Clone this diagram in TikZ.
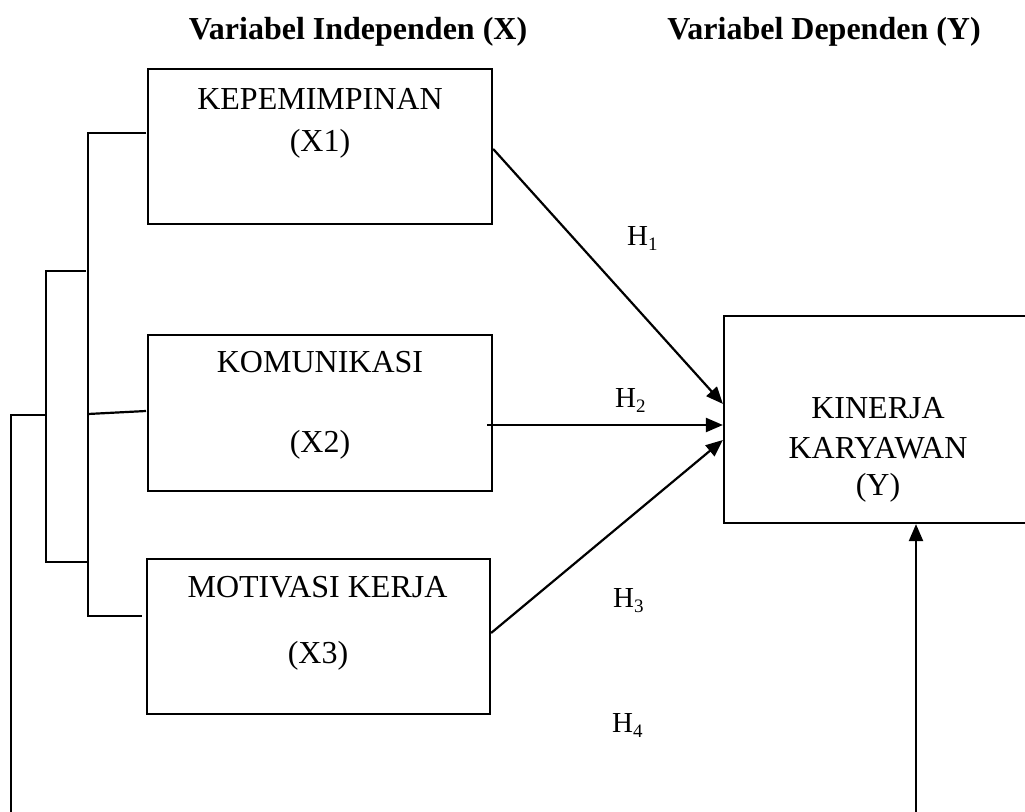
\documentclass[tikz,border=0pt]{standalone}
\usepackage{fontspec}
\setmainfont{Liberation Serif}
\usetikzlibrary{arrows.meta,calc}
\tikzset{
  box/.style={draw, line width=2.2pt, inner sep=0pt, rectangle},
  txt/.style={anchor=base, inner sep=0pt, font=\fontsize{32}{39}\selectfont},
  head/.style={anchor=base, inner sep=0pt, font=\fontsize{32}{39}\selectfont\bfseries},
  hlab/.style={anchor=base west, inner sep=0pt, font=\fontsize{29}{34}\selectfont},
  ln/.style={line width=2.2pt},
  arr/.style={line width=2.2pt, -{Triangle[length=17pt,width=14pt]}}
}
\newcommand{\hsub}[1]{H\raisebox{-0.18em}{\fontsize{19}{19}\selectfont #1}}
\begin{document}
\begin{tikzpicture}[x=1pt,y=-1pt]
\useasboundingbox (0,0) rectangle (1025,811);
\clip (0,0) rectangle (1025,811);
% headers
\node[head] (hx) at (358,39) {Variabel Independen (X)};
\node[head] (hy) at (824,39) {Variabel Dependen (Y)};
% boxes
\node[box, minimum width=344pt, minimum height=155pt] (x1) at (320,146.5) {};
\node[box, minimum width=344pt, minimum height=156pt] (x2) at (320,413) {};
\node[box, minimum width=343pt, minimum height=155pt] (x3) at (318.5,636.5) {};
\node[box, minimum width=308pt, minimum height=207pt] (y) at (878,419.5) {};
% box texts
\node[txt] (t1a) at (320,109) {KEPEMIMPINAN};
\node[txt] (t1b) at (320,151) {(X1)};
\node[txt] (t2a) at (320,372) {KOMUNIKASI};
\node[txt] (t2b) at (320,452) {(X2)};
\node[txt] (t3a) at (317.5,597) {MOTIVASI KERJA};
\node[txt] (t3b) at (318,663) {(X3)};
\node[txt] (tya) at (878,418) {KINERJA};
\node[txt] (tyb) at (878,458) {KARYAWAN};
\node[txt] (tyc) at (878,495) {(Y)};
% hypothesis labels
\node[hlab] (h1) at (627,245) {\hsub{1}};
\node[hlab] (h2) at (615,407) {\hsub{2}};
\node[hlab] (h3) at (613,607) {\hsub{3}};
\node[hlab] (h4) at (612,732) {\hsub{4}};
% arrows to Y
\draw[arr] ($(x1.north east)+(0,81)$) -- ($(y.north west)+(0,89)$);
\draw[arr] ($(x2.east)+(-6,12)$) -- ($(y.west)+(0,5.5)$);
\draw[arr] ($(x3.east)+(0,-3.5)$) -- ($(y.west)+(0,20.5)$);
% bracket coordinates
\coordinate (a1) at (146,133);
\coordinate (a2) at (88,133);
\coordinate (a3) at (88,616);
\coordinate (a4) at (142,616);
\coordinate (b1) at (146,411);
\coordinate (b2) at (88,414);
\coordinate (c1) at (86,271);
\coordinate (c2) at (46,271);
\coordinate (c3) at (46,562);
\coordinate (c4) at (88,562);
\coordinate (d1) at (45,415);
\coordinate (d2) at (11,415);
\coordinate (d3) at (11,820);
\coordinate (e1) at (916,820);
\draw[ln] (a1) -- (a2) -- (a3) -- (a4);
\draw[ln] (b1) -- (b2);
\draw[ln] (c1) -- (c2) -- (c3) -- (c4);
\draw[ln] (d1) -- (d2) -- (d3) -- (e1);
\draw[arr] (e1) -- (y.south -| e1);
\end{tikzpicture}
\end{document}
